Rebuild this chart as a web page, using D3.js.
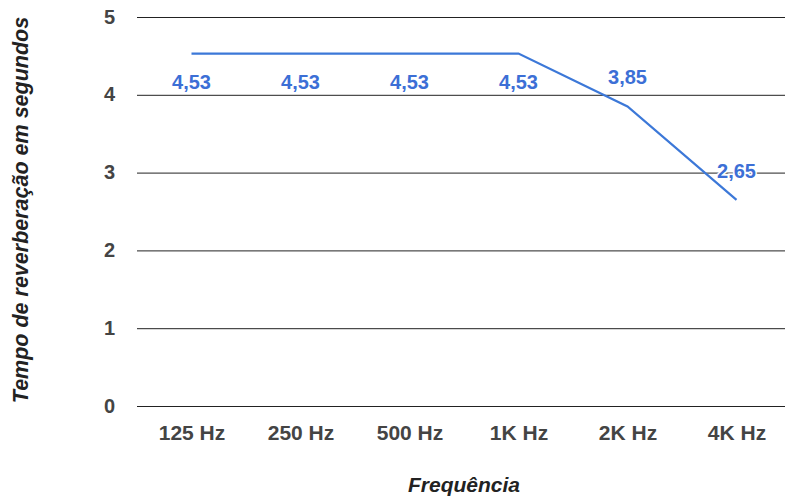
<!DOCTYPE html>
<html>
<head>
<meta charset="utf-8">
<script src="https://cdn.jsdelivr.net/npm/d3@7"></script>
<style>
  body { margin: 0; background: #fff; }
  text { font-family: "Liberation Sans", Arial, sans-serif; }
</style>
</head>
<body>
<div id="chart"></div>
<script>
var categories = ["125 Hz", "250 Hz", "500 Hz", "1K Hz", "2K Hz", "4K Hz"];
var values = [4.53, 4.53, 4.53, 4.53, 3.85, 2.65];
var yTicks = [0, 1, 2, 3, 4, 5];

var width = 785,
    height = 497;
var mLeft = 137, mRight = 791, mTop = 17, mBottom = 406;
var fs = 21;

var svg = d3.select("#chart").append("svg")
    .attr("width", width)
    .attr("height", height);

var x = d3.scalePoint()
    .domain(categories)
    .range([mLeft, mRight])
    .padding(0.5);

var y = d3.scaleLinear()
    .domain([0, 5])
    .range([mBottom, mTop]);

// grid lines + y tick labels
var yAxis = svg.append("g")
    .attr("transform", "translate(" + mLeft + ",0)")
    .call(d3.axisLeft(y).tickValues(yTicks).tickSize(-(width - mLeft)).tickPadding(22).tickFormat(d3.format("d")));
yAxis.select(".domain").remove();
yAxis.selectAll(".tick line").attr("stroke", "#222").attr("stroke-width", 1);
yAxis.selectAll(".tick text")
    .attr("fill", "#444")
    .attr("font-size", fs - 1)
    .attr("font-weight", "bold")
    .attr("font-family", "Liberation Sans, Arial, sans-serif")
    .attr("dy", "0.3em");

// x labels
var xAxis = svg.append("g")
    .attr("transform", "translate(0," + mBottom + ")")
    .call(d3.axisBottom(x).tickSize(0).tickPadding(19));
xAxis.select(".domain").remove();
xAxis.selectAll(".tick text")
    .attr("fill", "#444")
    .attr("font-size", fs)
    .attr("font-weight", "bold")
    .attr("font-family", "Liberation Sans, Arial, sans-serif");

// line
var line = d3.line()
    .x(function(d, i){ return x(categories[i]) })
    .y(function(d){ return y(d) });

svg.append("path")
    .datum(values)
    .attr("d", line)
    .attr("fill", "none")
    .attr("stroke", "#3c78d8")
    .attr("stroke-width", 2.2);

// data labels: below when flat, above when dropping
svg.append("g")
    .selectAll("text")
    .data(values)
    .join("text")
    .attr("x", function(d, i){ return x(categories[i]) })
    .attr("y", function(d, i){
        var drop = i > 0 && d < values[i - 1];
        return drop ? y(d) - 22 : y(d) + 35;
    })
    .attr("text-anchor", "middle")
    .attr("font-size", fs - 1)
    .attr("font-weight", "bold")
    .attr("fill", "#3c6fd6")
    .attr("stroke", "#fff")
    .attr("stroke-width", 3)
    .attr("paint-order", "stroke")
    .text(function(d){ return d.toFixed(2).replace(".", ",") });

// axis titles
svg.append("text")
    .attr("x", (mLeft + mRight) / 2)
    .attr("y", 492)
    .attr("text-anchor", "middle")
    .attr("font-size", fs)
    .attr("font-weight", "bold")
    .attr("font-style", "italic")
    .attr("fill", "#222")
    .text("Frequência");

svg.append("text")
    .attr("transform", "translate(28,210) rotate(-90)")
    .attr("text-anchor", "middle")
    .attr("font-size", fs + 0.5)
    .attr("font-weight", "bold")
    .attr("font-style", "italic")
    .attr("fill", "#222")
    .text("Tempo de reverberação em segundos");
</script>
</body>
</html>
